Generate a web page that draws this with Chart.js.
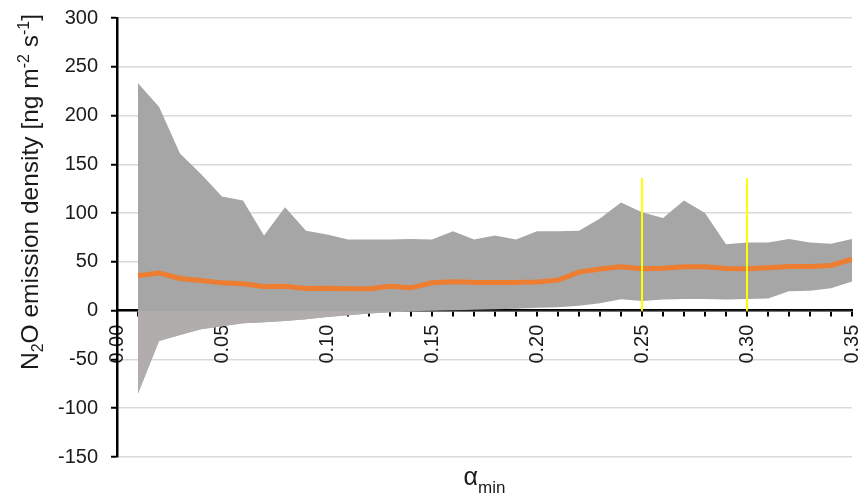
<!DOCTYPE html>
<html><head><meta charset="utf-8">
<script src="https://cdn.jsdelivr.net/npm/chart.js@4.4.0/dist/chart.umd.min.js"></script>
<style>html,body{margin:0;padding:0;background:#fff;}#wrap{width:861px;height:495px;}</style>
</head><body><div id="wrap"><canvas id="c" width="861" height="495"></canvas></div>
<script>
// ---- data ----
const alphaMin = [0.01,0.02,0.03,0.04,0.05,0.06,0.07,0.08,0.09,0.10,0.11,0.12,0.13,0.14,0.15,0.16,0.17,0.18,0.19,0.20,0.21,0.22,0.23,0.24,0.25,0.26,0.27,0.28,0.29,0.30,0.31,0.32,0.33,0.34,0.35];
const upperBound = [233,209,161,140,117,113,77,106,82,78,73,73,73,73.5,73,81.5,73,77,73,81.5,81.5,82,94.5,111,101,95,113,100,68,70,70,73.5,70,68.5,73.5];
const lowerBound = [-85,-31,-25,-19,-16,-13,-12,-10.5,-8.7,-6.5,-4.6,-3,-1.5,-0.5,0,0.5,1,1.5,2,3,3.5,5,7.5,11.8,10,11.5,12,12,11.5,12,12.5,20,20.5,23,30];
const meanValues = [35.7,38.7,33,31,28.5,27.5,24.8,25,22.7,23,22.5,22.4,25,23.4,28.6,29.6,29,29,29,29.5,31.3,39.5,42.8,45,43,43.6,45,45,43.2,43,44,45.3,45.3,46.3,52.8];
const markerAlphas = [0.25, 0.30];
const markerTop = 136;
const yTickRange = [-150, 300, 50];
const xTickRange = [0, 0.35, 0.01];
const xLabelEvery = 5; // label every 5 steps (0.05)
const yTitleParts = [["N",0],["2",1],["O emission density [ng m",0],["-2",-1],[" s",0],["-1",-1],["]",0]];
const xTitleParts = [["\u03B1",0],["min",1]];

const FONT = "'Liberation Sans', Arial, sans-serif";
const pts = (ys) => alphaMin.map((a, i) => ({x: a, y: ys[i]}));
const noPad = (s) => { s.paddingLeft = 0; s.paddingRight = 0; s.paddingTop = 0; s.paddingBottom = 0; };

const titlePlugin = {
  id: 'axisTitles',
  afterDraw(chart) {
    const ctx = chart.ctx;
    ctx.save();
    ctx.fillStyle = '#1a1a1a';
    ctx.textBaseline = 'alphabetic';
    const drawParts = (parts, main, small, subOff, supOff) => {
      let total = 0;
      const widths = parts.map(([t, k]) => {
        ctx.font = (k === 0 ? main : small) + 'px ' + FONT;
        const w = ctx.measureText(t).width; total += w; return w;
      });
      let x = -total / 2;
      parts.forEach(([t, k], i) => {
        ctx.font = (k === 0 ? main : small) + 'px ' + FONT;
        ctx.textAlign = 'left';
        ctx.fillText(t, x, k === 1 ? subOff : (k === -1 ? supOff : 0));
        x += widths[i];
      });
    };
    ctx.save();
    ctx.translate(37.5, 192);
    ctx.rotate(-Math.PI / 2);
    drawParts(yTitleParts, 24.5, 16, 5, -9);
    ctx.restore();
    ctx.save();
    ctx.translate((chart.chartArea.left + chart.chartArea.right) / 2, 485);
    drawParts(xTitleParts, 25, 17, 8, -9);
    ctx.restore();
    ctx.restore();
  }
};

const datasets = [];
markerAlphas.forEach(a => datasets.push({
  data: [{x: a, y: 0}, {x: a, y: markerTop}],
  borderColor: '#ffff00', borderWidth: 2, pointRadius: 0, fill: false
}));
datasets.push({
  data: pts(meanValues), borderColor: '#ed7d31', borderWidth: 5,
  pointRadius: 0, fill: false, borderJoinStyle: 'round', borderCapStyle: 'butt'
});
datasets.push({
  data: pts(lowerBound), borderWidth: 0, borderColor: 'rgba(0,0,0,0)', pointRadius: 0,
  fill: {target: 'origin', above: 'rgba(255,255,255,0)', below: '#b2adad'}
});
datasets.push({
  data: pts(upperBound), borderWidth: 0, borderColor: 'rgba(0,0,0,0)', pointRadius: 0,
  fill: {target: '-1', above: '#a6a6a6', below: '#a6a6a6'}, backgroundColor: '#a6a6a6'
});

new Chart(document.getElementById('c'), {
  type: 'line',
  data: {datasets},
  plugins: [titlePlugin],
  options: {
    responsive: false, animation: false, devicePixelRatio: 1, events: [],
    layout: {padding: {left: 0, right: 9, top: 18, bottom: 38}},
    plugins: {legend: {display: false}, tooltip: {enabled: false}},
    elements: {line: {tension: 0}},
    scales: {
      x: {
        type: 'linear', min: xTickRange[0], max: xTickRange[1], position: {y: 0}, z: 1,
        afterFit: noPad,
        grid: {drawOnChartArea: false, drawTicks: true, tickLength: 5, tickColor: '#000', lineWidth: 2},
        border: {display: true, color: '#000', width: 2.5},
        ticks: {
          stepSize: xTickRange[2], autoSkip: false, minRotation: 90, maxRotation: 90, padding: 9,
          color: '#1a1a1a', font: {family: FONT, size: 20},
          callback: (v) => { const n = Math.round(v * 100); return n % xLabelEvery === 0 ? (n / 100).toFixed(2) : ''; }
        }
      },
      y: {
        min: yTickRange[0], max: yTickRange[1],
        afterFit: (s) => { s.width = 117; noPad(s); },
        grid: {color: '#d9d9d9', lineWidth: 1.5, tickColor: '#000', tickLength: 6, tickWidth: 2},
        border: {display: true, color: '#000', width: 2.5},
        ticks: {stepSize: yTickRange[2], padding: 13, color: '#1a1a1a', font: {family: FONT, size: 20}}
      }
    }
  }
});
</script></body></html>
